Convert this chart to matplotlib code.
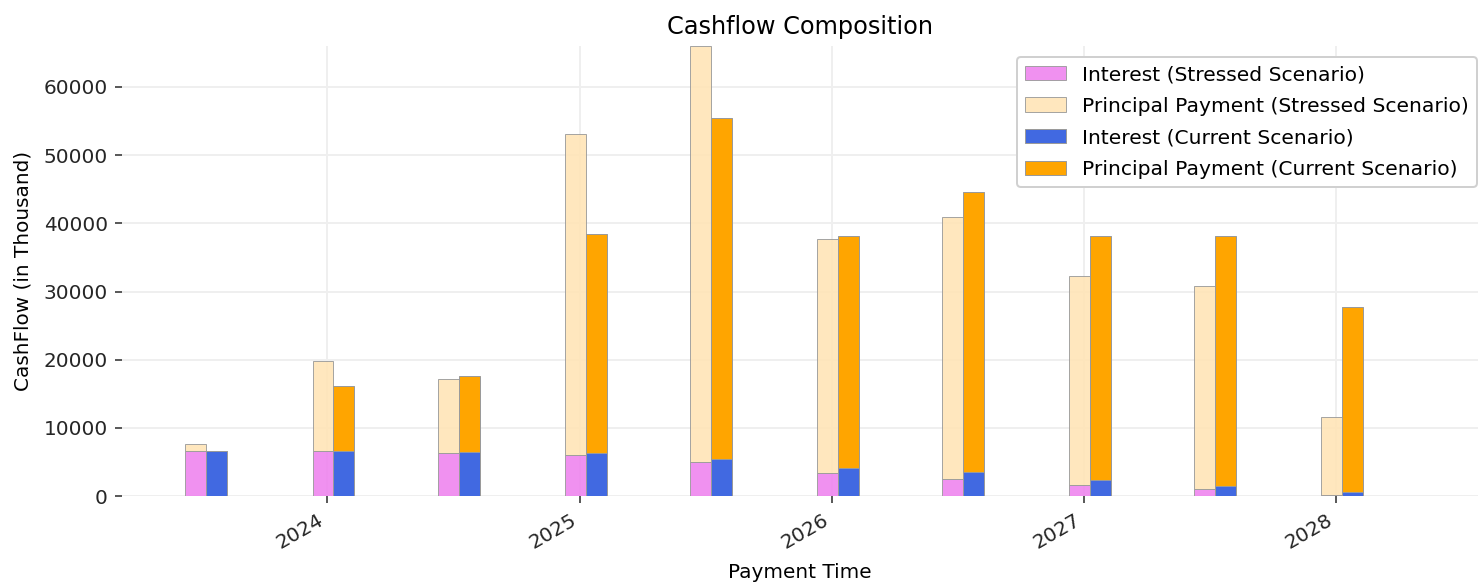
import datetime as dt
import numpy as np
import matplotlib
matplotlib.use("Agg")
import matplotlib.pyplot as plt
import matplotlib.dates as mdates

# Payment dates (semi-annual)
pay_dates = [dt.date(2023, 7, 10), dt.date(2024, 1, 10), dt.date(2024, 7, 10),
             dt.date(2025, 1, 10), dt.date(2025, 7, 10), dt.date(2026, 1, 10),
             dt.date(2026, 7, 10), dt.date(2027, 1, 10), dt.date(2027, 7, 10),
             dt.date(2028, 1, 10)]

# Cashflows in thousand
interest_stressed = [6600, 6600, 6300, 6000, 5000, 3400, 2500, 1700, 1100, 200]
principal_stressed = [1000, 13200, 10900, 47100, 61000, 34300, 38400, 30600, 29700, 11400]
interest_current = [6600, 6600, 6450, 6300, 5400, 4100, 3500, 2300, 1500, 600]
principal_current = [0, 9500, 11150, 32100, 50000, 34000, 41100, 35800, 36600, 27100]

DPI = 144
fig = plt.figure(figsize=(1478 / DPI, 583 / DPI), dpi=DPI)
ax = fig.add_axes([0.0825, 0.149, 0.9175, 0.772])

x = mdates.date2num(pay_dates)
width = 30  # days

edge = '#9a9a9a'
ax.bar(x - width / 2, interest_stressed, width=width, color='violet', alpha=0.88,
       edgecolor=edge, linewidth=0.5, label='Interest (Stressed Scenario)', zorder=2)
ax.bar(x - width / 2, principal_stressed, width=width, bottom=interest_stressed,
       color='moccasin', alpha=0.88, edgecolor=edge, linewidth=0.5,
       label='Principal Payment (Stressed Scenario)', zorder=2)
ax.bar(x + width / 2, interest_current, width=width, color='royalblue',
       edgecolor=edge, linewidth=0.5, label='Interest (Current Scenario)', zorder=2)
ax.bar(x + width / 2, principal_current, width=width, bottom=interest_current,
       color='orange', edgecolor=edge, linewidth=0.5,
       label='Principal Payment (Current Scenario)', zorder=2)

ax.xaxis.set_major_locator(mdates.YearLocator())
ax.xaxis.set_major_formatter(mdates.DateFormatter('%Y'))
ax.set_xlim(mdates.date2num(dt.date(2023, 3, 10)), mdates.date2num(dt.date(2028, 7, 25)))
ax.set_ylim(0, 66000)
ax.set_yticks(np.arange(0, 60001, 10000))

for s in ax.spines.values():
    s.set_visible(False)
ax.grid(True, color='#efefef', linewidth=1.0, zorder=0)
ax.set_axisbelow(True)
ax.tick_params(colors='#333333', labelcolor='#262626')

for lbl in ax.get_xticklabels():
    lbl.set_rotation(30)
    lbl.set_ha('right')

ax.set_title('Cashflow Composition', fontsize=12)
ax.set_xlabel('Payment Time', labelpad=5.5)
ax.set_ylabel('CashFlow (in Thousand)', labelpad=5.5)
ax.legend(loc='upper right', bbox_to_anchor=(1477 / 1478, 1 - 57 / 583),
          bbox_transform=fig.transFigure, borderaxespad=0, framealpha=1,
          edgecolor='#d0d0d0', fontsize=10.15, labelspacing=0.62)

fig.savefig('out.png', dpi=DPI)
